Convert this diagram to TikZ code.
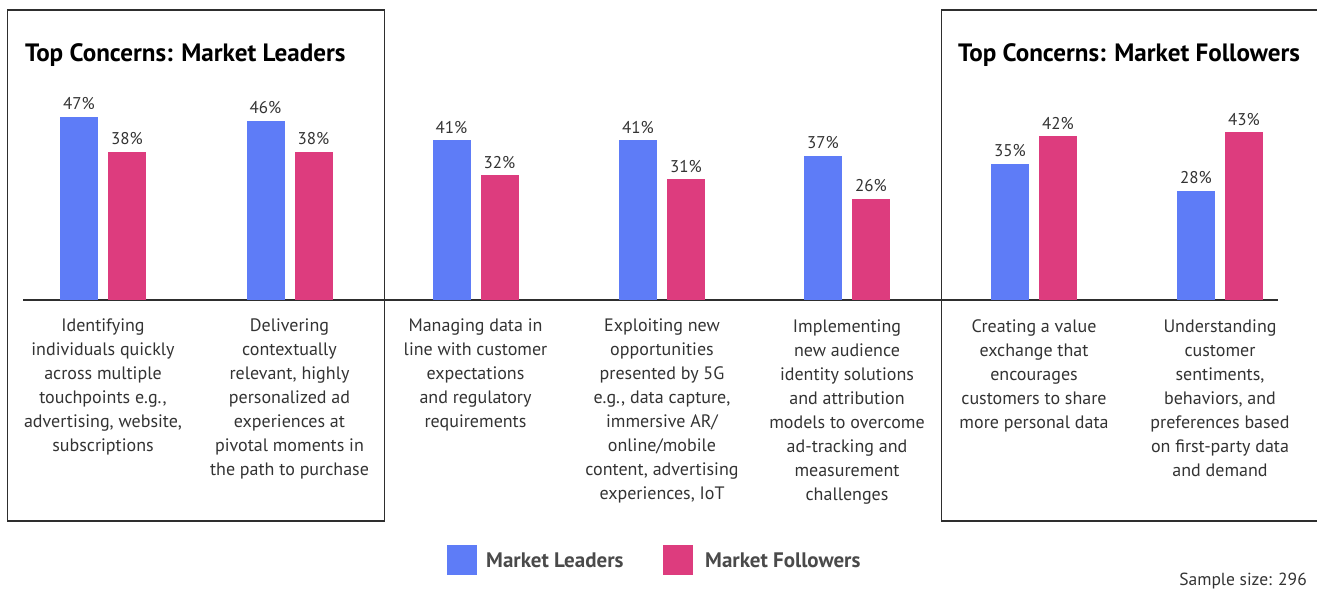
\documentclass[tikz,border=0pt]{standalone}
\usepackage{fontspec}
\setmainfont{PT Sans}
\definecolor{lblue}{HTML}{5E7CF7}
\definecolor{fpink}{HTML}{DD3C7E}
\definecolor{txt}{HTML}{333333}
\definecolor{legtxt}{HTML}{4A4A4A}
\definecolor{frame}{HTML}{2E2E2E}
\begin{document}
\begin{tikzpicture}[x=1pt,y=-1pt,
  boxline/.style={draw=frame,line width=1.2pt},
  axisline/.style={draw=frame,line width=1.2pt},
  pct/.style={font=\fontsize{17}{20}\selectfont,text=txt,inner sep=0pt,anchor=base},
  cat/.style={font=\fontsize{18}{24}\selectfont,text=txt,inner sep=0pt,anchor=north,align=center},
  ttl/.style={font=\bfseries\fontsize{25.1}{28}\selectfont,text=black,inner sep=0pt,anchor=base west},
  leg/.style={font=\bfseries\fontsize{21}{24}\selectfont,text=legtxt,inner sep=0pt,anchor=base west}]
\useasboundingbox (0,0) rectangle (1317,590);
\begin{scope}
\clip (0,0) rectangle (1317,590);
\draw[boxline] (7.5,10) rectangle (384.5,521);
\draw[boxline] (941.5,10) rectangle (1330,521);
\end{scope}
\draw[axisline] (23,300) -- (1278,300);
\node[ttl] (tl) at (25,61) {Top Concerns: Market Leaders};
\node[ttl] (tf) at (958,61) {Top Concerns: Market Followers};
\foreach \cx/\a/\b/\n in {103/47/38/1, 289.5/46/38/2, 475.5/41/32/3, 662/41/31/4, 847/37/26/5, 1034/35/42/6, 1220/28/43/7}{
  \fill[lblue] (\cx-43,300) rectangle ({\cx-5},{300-3.9*\a});
  \fill[fpink] (\cx+5,300) rectangle ({\cx+43},{300-3.9*\b});
  \node[pct] (pa\n) at ({\cx-24},{300-3.9*\a-7}) {\a\%};
  \node[pct] (pb\n) at ({\cx+24},{300-3.9*\b-7}) {\b\%};
}
\node[cat] (c1) at (103,318.5) {Identifying\\individuals quickly\\across multiple\\touchpoints e.g.,\\advertising, website,\\subscriptions};
\node[cat] (c2) at (289.5,318.5) {Delivering\\contextually\\relevant, highly\\personalized ad\\experiences at\\pivotal moments in\\the path to purchase};
\node[cat] (c3) at (475.5,318.5) {Managing data in\\line with customer\\expectations\\and regulatory\\requirements};
\node[cat] (c4) at (662,318.5) {Exploiting new\\opportunities\\presented by 5G\\e.g., data capture,\\immersive AR/\\online/mobile\\content, advertising\\experiences, IoT};
\node[cat] (c5) at (847,319.5) {Implementing\\new audience\\identity solutions\\and attribution\\models to overcome\\ad-tracking and\\measurement\\challenges};
\node[cat] (c6) at (1034,319.5) {Creating a value\\exchange that\\encourages\\customers to share\\more personal data};
\node[cat] (c7) at (1220,319.5) {Understanding\\customer\\sentiments,\\behaviors, and\\preferences based\\on first-party data\\and demand};
\fill[lblue] (447,545) rectangle (477,575);
\node[leg] (l1) at (486,567) {Market Leaders};
\fill[fpink] (663,545) rectangle (693,575);
\node[leg] (l2) at (705,567) {Market Followers};
\node[font=\fontsize{17.5}{20}\selectfont,text=txt,inner sep=0pt,anchor=base east] (ss) at (1307,585) {Sample size: 296};
\end{tikzpicture}
\end{document}
